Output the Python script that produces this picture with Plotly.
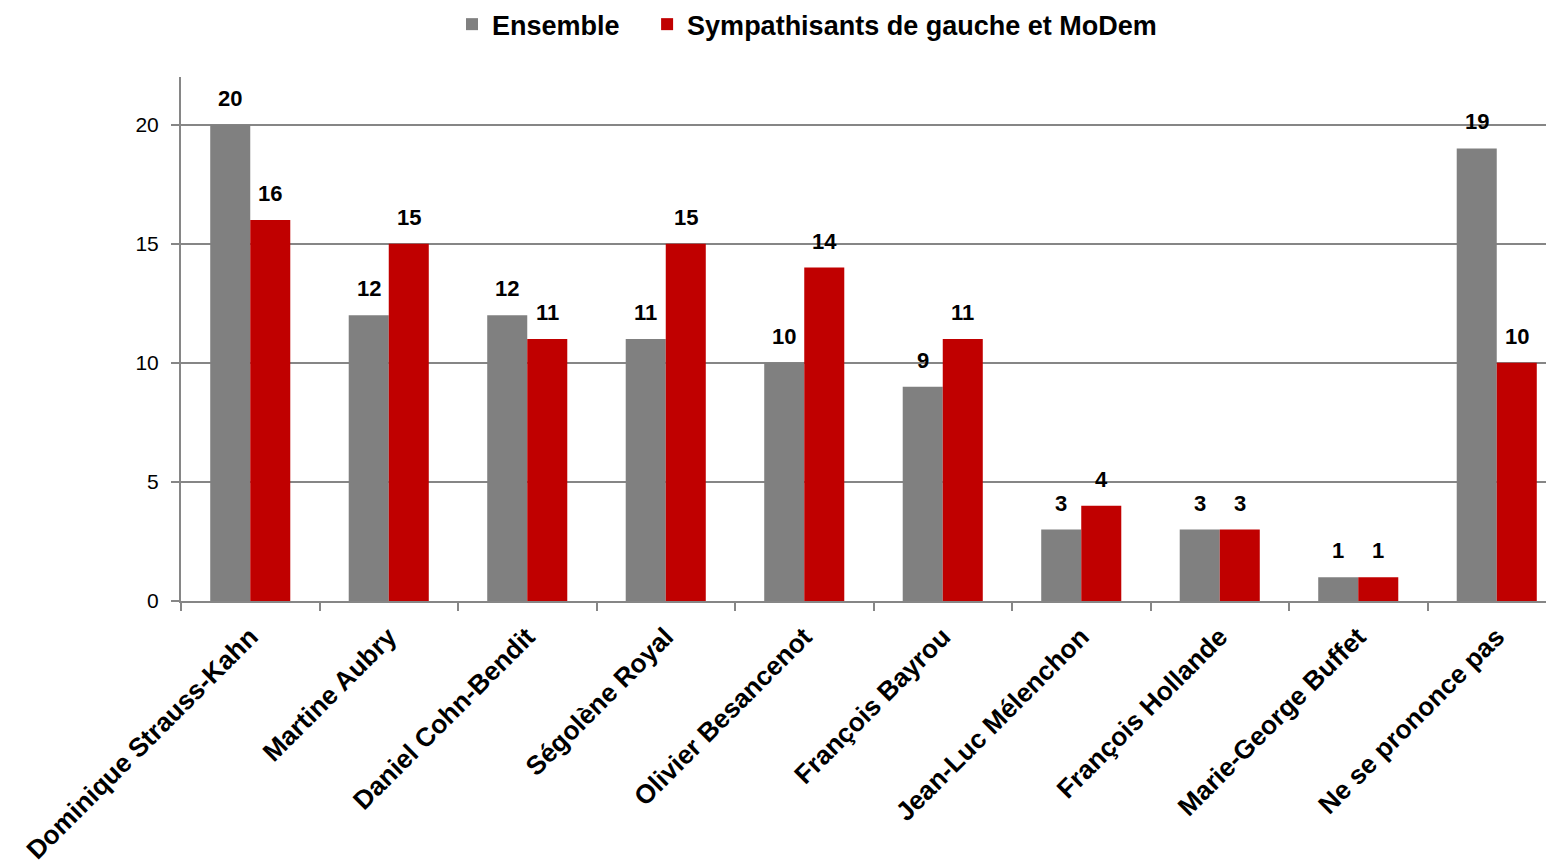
import plotly.graph_objects as go

categories = ["Dominique Strauss-Kahn", "Martine Aubry", "Daniel Cohn-Bendit", "Ségolène Royal",
              "Olivier Besancenot", "François Bayrou", "Jean-Luc Mélenchon", "François Hollande",
              "Marie-George Buffet", "Ne se prononce pas"]
ensemble = [20, 12, 12, 11, 10, 9, 3, 3, 1, 19]
gauche = [16, 15, 11, 15, 14, 11, 4, 3, 1, 10]
series_names = ["Ensemble", "Sympathisants de gauche et MoDem"]
colors = ["#808080", "#C00000"]
y_ticks = [0, 5, 10, 15, 20]

FONT = "Liberation Sans, Arial, sans-serif"

fig = go.Figure()
legend_pad = ["\u00a0\u00a0\u00a0", ""]
for name, vals, col, pad in zip(series_names, [ensemble, gauche], colors, legend_pad):
    fig.add_trace(go.Bar(x=categories, y=vals, name=f"<b>{name}</b>{pad}",
                         marker=dict(color=col, line=dict(width=0))))

annotations = []
for vals, shift in [(ensemble, -20), (gauche, 20)]:
    for c, v in zip(categories, vals):
        annotations.append(dict(x=c, y=v, text=f"<b>{v}</b>", showarrow=False, xref="x", yref="y",
                                xshift=shift, yshift=12, yanchor="bottom",
                                font=dict(family=FONT, size=22, color="black")))

fig.update_layout(
    width=1566, height=866,
    margin=dict(l=181, r=0, t=77, b=265),
    paper_bgcolor="white", plot_bgcolor="white",
    barmode="group", bargap=0.422, bargroupgap=0,
    annotations=annotations,
    legend=dict(orientation="h", x=0.452, xanchor="center", y=1.10, yanchor="middle",
                font=dict(family=FONT, size=27, color="black"), traceorder="normal"),
    font=dict(family=FONT, color="black"),
    showlegend=True,
)
fig.update_xaxes(tickangle=-45, tickfont=dict(family=FONT, size=26.3, color="black"),
                 tickvals=categories, ticktext=[f"<b>{c}</b>" for c in categories],
                 showline=True, linecolor="#868686", linewidth=2, tickson="boundaries",
                 ticks="outside", ticklen=8, tickcolor="#868686", tickwidth=2, showgrid=False,
                 automargin=False, ticklabelstandoff=8)
fig.update_yaxes(range=[0, 22], tickvals=y_ticks, tickfont=dict(family=FONT, size=21, color="black"),
                 showline=True, linecolor="#868686", linewidth=2, ticks="outside", ticklen=8,
                 tickcolor="#868686", tickwidth=2, showgrid=True, gridcolor="#868686", gridwidth=2,
                 zeroline=False, automargin=False, ticklabelstandoff=8)
fig.write_html("out.html", config={"displayModeBar": False},
               post_script="document.body.style.margin='0';document.body.style.overflow='hidden';")
